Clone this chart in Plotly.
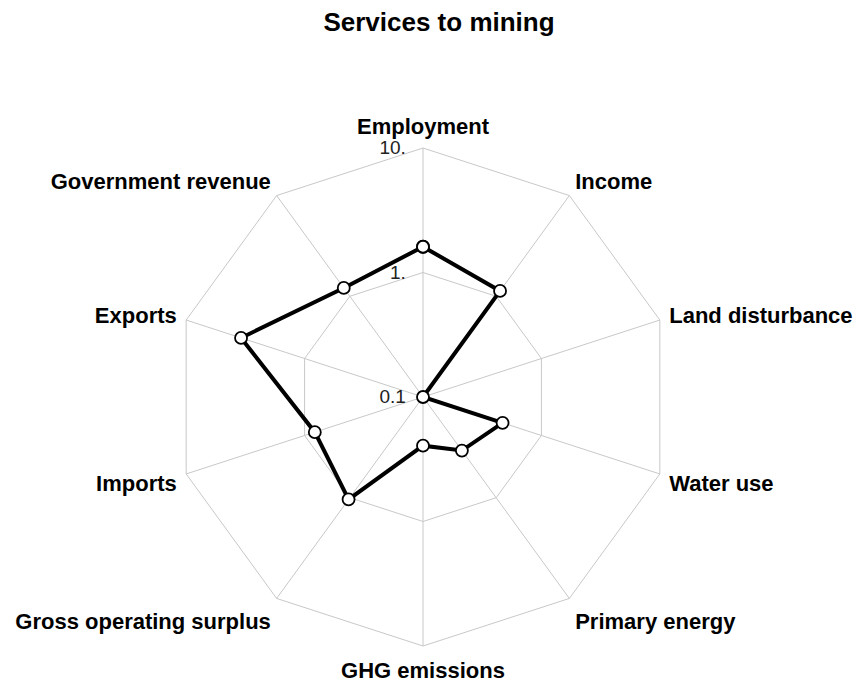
import numpy as np
import plotly.graph_objects as go

categories = ["Employment", "Income", "Land disturbance", "Water use", "Primary energy",
              "GHG emissions", "Gross operating surplus", "Imports", "Exports", "Government revenue"]
values = [1.61, 1.13, 0.1, 0.47, 0.34, 0.246, 1.04, 0.82, 3.44, 1.21]
tick_vals = [0.1, 1, 10]
tick_text = ["0.1", "1.", "10."]

W, H = 858, 686
cx, cy, R = 423, 397, 249

# logarithmic radial scale: decades above 0.1 (0.1 at the centre, 10 at the outer ring).
# A point exactly at the centre is dropped by plotly's inside-polygon test, so keep a
# negligible epsilon above zero so that its marker is still drawn.
r_min = min(tick_vals)
r_log = list(np.maximum(np.log10(np.array(values) / r_min), 1e-6))
fig = go.Figure()
fig.add_trace(go.Scatterpolar(
    r=r_log + r_log[:1],
    theta=categories + categories[:1],
    mode="lines+markers",
    line=dict(color="black", width=4),
    marker=dict(size=12, color="white", line=dict(color="black", width=1.8)),
    showlegend=False,
))

fig.update_layout(
    width=W, height=H,
    margin=dict(l=0, r=0, t=0, b=0),
    paper_bgcolor="white",
    plot_bgcolor="white",
    font=dict(family="Liberation Sans, Arial, sans-serif", color="black"),
    title=dict(text="<b>Services to mining</b>", x=439 / W, xanchor="center",
               y=1 - 22 / H, yanchor="middle", yref="container",
               font=dict(size=26, color="black")),
    polar=dict(
        domain=dict(x=[(cx - R) / W, (cx + R) / W], y=[1 - (cy + R) / H, 1 - (cy - R) / H]),
        gridshape="linear",
        bgcolor="white",
        angularaxis=dict(
            direction="clockwise", rotation=90,
            showline=True, linecolor="#c8c8c8", linewidth=1,
            showgrid=True, gridcolor="#c8c8c8", gridwidth=1,
            ticks="outside", ticklen=5, tickcolor="rgba(0,0,0,0)",
            tickfont=dict(size=22, color="black", family="Liberation Sans, Arial, sans-serif", weight="bold"),
        ),
        radialaxis=dict(
            type="linear", range=[0, float(np.log10(max(tick_vals) / r_min))],
            angle=90, side="counterclockwise",
            tickvals=list(np.log10(np.array(tick_vals) / r_min)), ticktext=tick_text,
            showline=False, ticks="outside", ticklen=10, tickcolor="rgba(0,0,0,0)",
            showgrid=True, gridcolor="#c8c8c8", gridwidth=1,
            tickangle=90,
            tickfont=dict(size=19, color="#222222"),
        ),
    ),
)

fig.write_html("out.html", config={"displayModeBar": False},
               post_script="document.body.style.margin='0px';")
